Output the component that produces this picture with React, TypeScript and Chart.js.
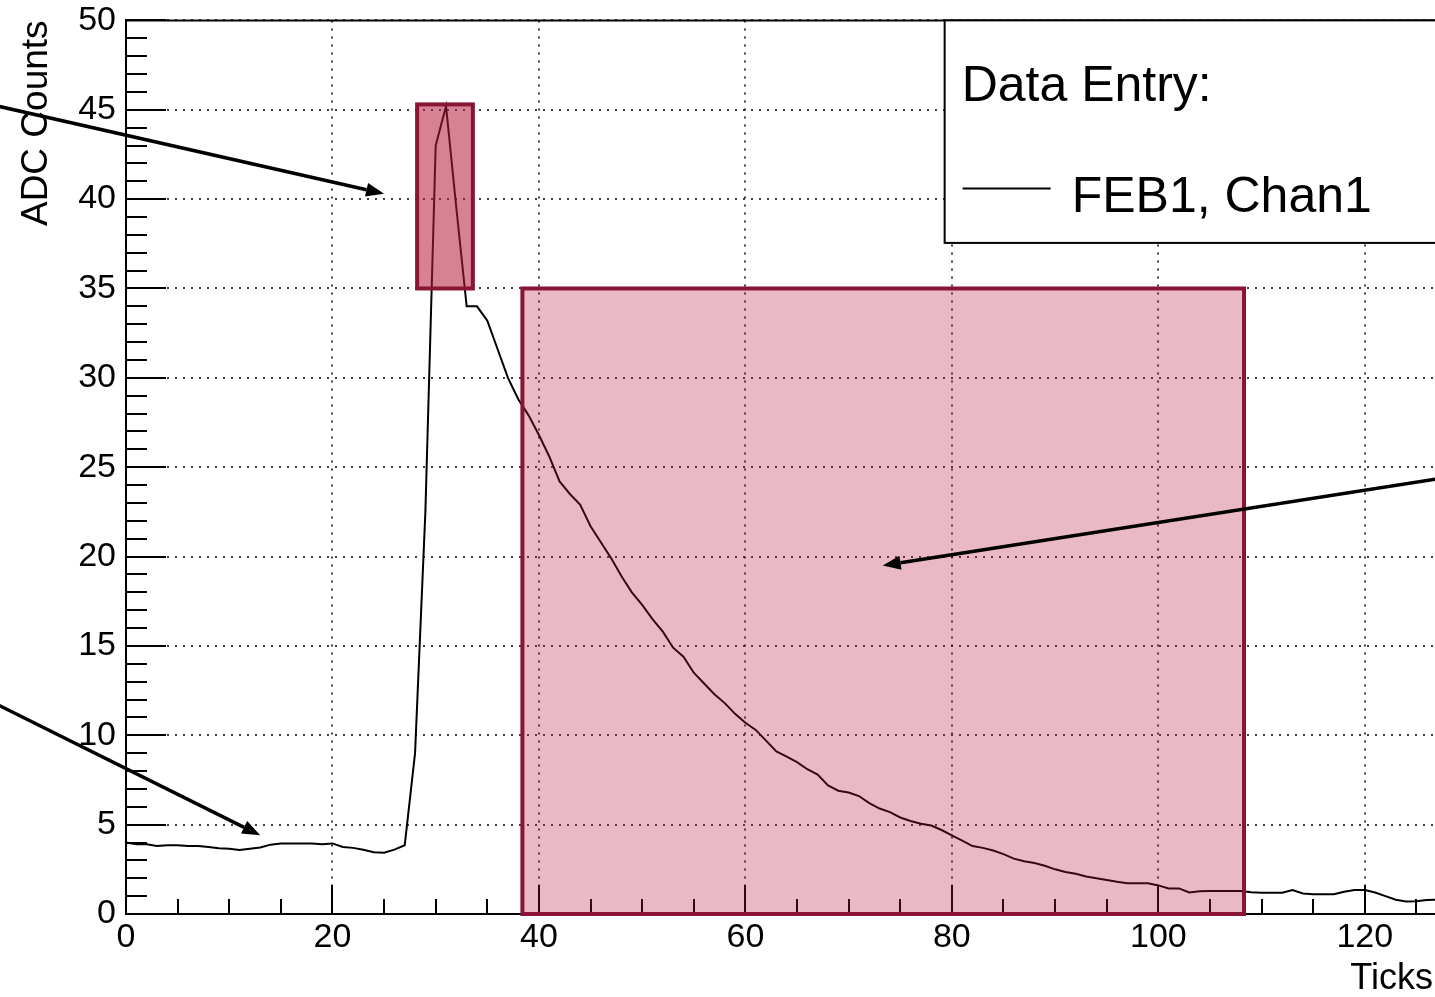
import React, { useEffect, useRef } from "react";
import { Chart, registerables } from "chart.js";

Chart.register(...registerables);

// ---- data ----
const X_MIN = 0;
const X_MAX = 126.8;
const Y_MIN = 0;
const Y_MAX = 50;
const X_STEP = 20;
const Y_STEP = 5;

const SERIES_LABEL = "FEB1, Chan1";
const LEGEND_HEADER = "Data Entry:";
const X_TITLE = "Ticks";
const Y_TITLE = "ADC Counts";

// ADC counts per tick (tick index = array index)
const adcCounts = [
  4.0, 3.9, 3.9, 3.8, 3.85, 3.85, 3.8, 3.8, 3.75, 3.68,
  3.65, 3.58, 3.65, 3.72, 3.88, 3.95, 3.95, 3.95, 3.95, 3.9,
  3.95, 3.75, 3.7, 3.6, 3.45, 3.43, 3.6, 3.85, 9.0, 22.5,
  43.0, 45.2, 39.5, 34.0, 34.0, 33.2, 31.6, 30.0, 28.8, 27.9,
  26.8, 25.6, 24.2, 23.5, 22.9, 21.7, 20.8, 19.9, 18.9, 18.0,
  17.3, 16.5, 15.8, 14.9, 14.4, 13.5, 12.9, 12.3, 11.8, 11.2,
  10.7, 10.3, 9.7, 9.1, 8.8, 8.5, 8.1, 7.8, 7.2, 6.9,
  6.8, 6.6, 6.2, 5.9, 5.7, 5.4, 5.2, 5.05, 4.95, 4.7,
  4.4, 4.1, 3.8, 3.7, 3.55, 3.35, 3.1, 2.95, 2.85, 2.7,
  2.5, 2.35, 2.25, 2.1, 2.0, 1.9, 1.8, 1.72, 1.72, 1.72,
  1.6, 1.43, 1.43, 1.2, 1.27, 1.28, 1.28, 1.28, 1.28, 1.22,
  1.19, 1.19, 1.19, 1.34, 1.15, 1.1, 1.1, 1.1, 1.25, 1.34,
  1.34, 1.2, 1.0, 0.8, 0.7, 0.72, 0.78, 0.8,
];

// highlighted regions (data coordinates)
const regionX0 = [28.2, 38.4];
const regionX1 = [33.6, 108.3];
const regionY0 = [35.0, 0.0];
const regionY1 = [45.3, 35.0];
const regionAlpha = [0.55, 0.3];

// annotation arrows (data coordinates: tail -> tip)
const arrowFromX = [-12.4, -12.4, 127.6];
const arrowFromY = [45.2, 11.7, 24.4];
const arrowToX = [25.0, 13.0, 73.3];
const arrowToY = [40.3, 4.4, 19.5];

// legend box (data coordinates of its lower-left corner)
const legendX0 = 79.3;
const legendY0 = 37.55;

const FONT = '"Liberation Sans", Arial, Helvetica, sans-serif';

const decorPlugin = {
  id: "rootDecor",
  beforeDatasetsDraw(chart: any) {
    const { ctx, chartArea: a, scales } = chart;
    const xs = scales.x;
    const ys = scales.y;
    ctx.save();
    ctx.strokeStyle = "#000";
    ctx.lineWidth = 2;
    ctx.beginPath();
    for (let v = X_MIN; v <= X_MAX; v += 5) {
      const px = Math.round(xs.getPixelForValue(v));
      const len = v % X_STEP === 0 ? 29 : 15;
      ctx.moveTo(px, a.bottom);
      ctx.lineTo(px, a.bottom - len);
    }
    for (let v = Y_MIN; v <= Y_MAX; v += 1) {
      const py = Math.round(ys.getPixelForValue(v));
      const len = v % Y_STEP === 0 ? 40 : 21;
      ctx.moveTo(a.left, py);
      ctx.lineTo(a.left + len, py);
    }
    ctx.stroke();
    ctx.restore();
  },
  afterDatasetsDraw(chart: any) {
    const { ctx, chartArea: a, scales } = chart;
    const xs = scales.x;
    const ys = scales.y;
    ctx.save();
    // highlighted regions
    for (let i = 0; i < regionX0.length; i++) {
      const l = xs.getPixelForValue(regionX0[i]);
      const r = xs.getPixelForValue(regionX1[i]);
      const t = ys.getPixelForValue(regionY1[i]);
      const b = ys.getPixelForValue(regionY0[i]);
      ctx.fillStyle = `rgba(182,25,62,${regionAlpha[i]})`;
      ctx.fillRect(l, t, r - l, b - t);
      ctx.strokeStyle = "#8a1434";
      ctx.lineWidth = 4;
      ctx.strokeRect(l, t, r - l, b - t);
    }
    // top frame line
    ctx.strokeStyle = "#000";
    ctx.lineWidth = 2;
    ctx.beginPath();
    ctx.moveTo(a.left, a.top);
    ctx.lineTo(a.right, a.top);
    ctx.stroke();

    // legend
    const lx = xs.getPixelForValue(legendX0);
    const ly = a.top;
    const lb = ys.getPixelForValue(legendY0);
    ctx.fillStyle = "#fff";
    ctx.fillRect(lx, ly, chart.width - lx + 20, lb - ly);
    ctx.strokeStyle = "#000";
    ctx.lineWidth = 2;
    ctx.strokeRect(lx, ly, chart.width - lx + 20, lb - ly);
    ctx.fillStyle = "#000";
    ctx.font = `50px ${FONT}`;
    ctx.textAlign = "left";
    ctx.textBaseline = "alphabetic";
    ctx.fillText(LEGEND_HEADER, lx + 17, ly + 81);
    ctx.lineWidth = 2;
    ctx.beginPath();
    ctx.moveTo(lx + 18, ly + 168);
    ctx.lineTo(lx + 106, ly + 168);
    ctx.stroke();
    ctx.fillText(chart.data.datasets[0].label, lx + 127, ly + 192);

    // axis titles
    ctx.font = `36px ${FONT}`;
    ctx.textAlign = "right";
    ctx.fillText(X_TITLE, a.right - 2, 989);
    ctx.save();
    ctx.translate(47, a.top);
    ctx.rotate(-Math.PI / 2);
    ctx.font = `37px ${FONT}`;
    ctx.textAlign = "right";
    ctx.fillText(Y_TITLE, 0, 0);
    ctx.restore();

    // arrows
    ctx.strokeStyle = "#000";
    ctx.fillStyle = "#000";
    ctx.lineWidth = 3.5;
    for (let i = 0; i < arrowFromX.length; i++) {
      const x1 = xs.getPixelForValue(arrowFromX[i]);
      const y1 = ys.getPixelForValue(arrowFromY[i]);
      const x2 = xs.getPixelForValue(arrowToX[i]);
      const y2 = ys.getPixelForValue(arrowToY[i]);
      const ang = Math.atan2(y2 - y1, x2 - x1);
      const hl = 18;
      const hw = 7;
      const bx = x2 - hl * Math.cos(ang);
      const by = y2 - hl * Math.sin(ang);
      ctx.beginPath();
      ctx.moveTo(x1, y1);
      ctx.lineTo(bx, by);
      ctx.stroke();
      ctx.beginPath();
      ctx.moveTo(x2, y2);
      ctx.lineTo(bx + hw * Math.sin(ang), by - hw * Math.cos(ang));
      ctx.lineTo(bx - hw * Math.sin(ang), by + hw * Math.cos(ang));
      ctx.closePath();
      ctx.fill();
    }
    ctx.restore();
  },
};

export default function App() {
  const canvasRef = useRef<HTMLCanvasElement | null>(null);

  useEffect(() => {
    const canvas = canvasRef.current;
    if (!canvas) return;
    const chart = new Chart(canvas, {
      type: "line",
      data: {
        datasets: [
          {
            label: SERIES_LABEL,
            data: adcCounts.map((v, i) => ({ x: i, y: v })),
            borderColor: "#000",
            borderWidth: 2,
            pointRadius: 0,
            tension: 0,
            fill: false,
          },
        ],
      },
      options: {
        animation: false,
        responsive: false,
        devicePixelRatio: 1,
        layout: { padding: { top: 20, right: 0, left: 0, bottom: 0 } },
        plugins: {
          legend: { display: false },
          tooltip: { enabled: false },
          title: { display: false },
        },
        scales: {
          x: {
            type: "linear",
            min: X_MIN,
            max: X_MAX,
            afterFit: (s: any) => {
              s.height = 83;
            },
            ticks: {
              stepSize: X_STEP,
              includeBounds: false,
              color: "#000",
              padding: 3,
              maxRotation: 0,
              autoSkip: false,
              font: { family: FONT, size: 34 },
            },
            grid: {
              color: "rgba(0,0,0,0.75)",
              lineWidth: 2,
              drawTicks: false,
            },
            border: { display: true, color: "#000", width: 2, dash: [2, 6] },
          },
          y: {
            type: "linear",
            min: Y_MIN,
            max: Y_MAX,
            afterFit: (s: any) => {
              s.width = 126;
            },
            ticks: {
              stepSize: Y_STEP,
              color: "#000",
              padding: 0,
              autoSkip: false,
              font: { family: FONT, size: 34 },
            },
            grid: {
              color: "rgba(0,0,0,0.75)",
              lineWidth: 2,
              drawTicks: true,
              tickLength: 10,
              tickWidth: 0,
              tickColor: "rgba(0,0,0,0)",
            },
            border: { display: true, color: "#000", width: 2, dash: [2, 6] },
          },
        },
      },
      plugins: [decorPlugin],
    } as any);
    return () => chart.destroy();
  }, []);

  return (
    <div
      style={{
        position: "absolute",
        left: 0,
        top: 0,
        width: 1435,
        height: 997,
        overflow: "hidden",
        background: "#fff",
      }}
    >
      <canvas ref={canvasRef} width={1435} height={997} style={{ display: "block" }} />
    </div>
  );
}
